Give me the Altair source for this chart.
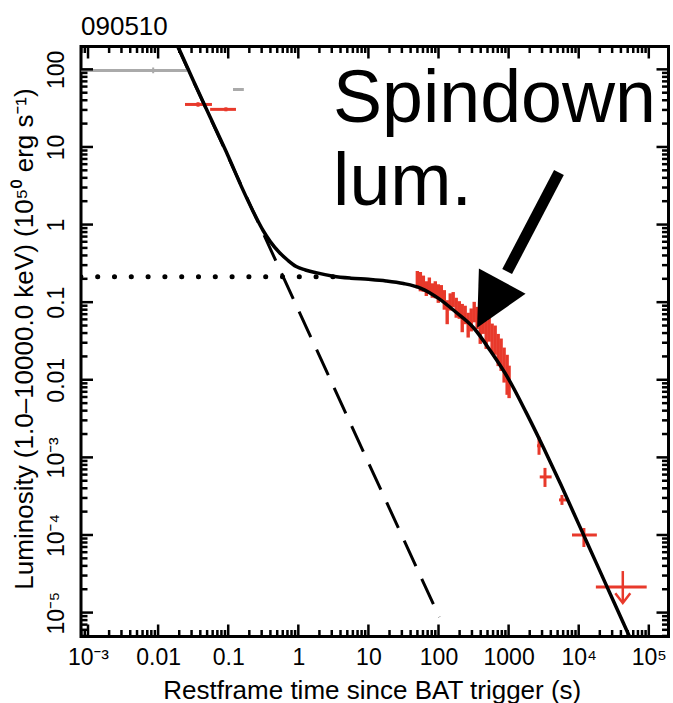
import json
import altair as alt
import pandas as pd

# ---------------- data ----------------
# model curve (solid): total = steep decay + spindown
model_t = [0.0186, 0.0316, 0.0562, 0.1, 0.158, 0.224, 0.316, 0.398, 0.537, 0.708, 0.933,
           1.26, 1.78, 3.16, 5.62, 10, 17.8, 31.6, 56.2, 100, 178, 316, 562, 1000, 1778,
           3162, 5623, 10000, 17783, 31623, 56234]
model_L = [210, 72.4, 23.4, 7.59, 2.95, 1.51, 0.832, 0.603, 0.437, 0.347, 0.288,
           0.260, 0.240, 0.216, 0.204, 0.197, 0.188, 0.174, 0.151, 0.112, 0.0741, 0.0468,
           0.0229, 0.0102, 3.80e-3, 1.32e-3, 4.37e-4, 1.38e-4, 4.37e-5, 1.38e-5, 4.37e-6]
# steep power-law component (dashed)
dash_t = [0.0183, 102.6]
dash_L = [210, 8.75e-6]
# spindown plateau level (dotted)
plateau_t = [7.9e-4, 3.3]
plateau_L = [0.213, 0.213]

# XRT data (red cluster)
xrt_t = [49.9, 55.1, 60.8, 67.0, 74.0, 81.6, 90.0, 99.3, 109.6, 121, 133, 147, 162, 179,
         198, 218, 240, 265, 293, 323, 356, 394, 434, 479, 528, 582, 643, 710, 782, 863,
         953, 1016]
xrt_L = [0.195, 0.184, 0.173, 0.149, 0.163, 0.141, 0.145, 0.129, 0.133, 0.108, 0.0754,
         0.101, 0.108, 0.0849, 0.080, 0.0631, 0.069, 0.0513, 0.0594, 0.0754, 0.0631, 0.0442,
         0.056, 0.0381, 0.0442, 0.0348, 0.0328, 0.0244, 0.0210, 0.0156, 0.0116, 0.0094]
xrt_lo = [0.150, 0.138, 0.136, 0.120, 0.128, 0.114, 0.112, 0.098, 0.106, 0.080, 0.052,
          0.078, 0.086, 0.063, 0.061, 0.041, 0.052, 0.035, 0.042, 0.055, 0.045, 0.029,
          0.039, 0.025, 0.031, 0.022, 0.021, 0.015, 0.013, 0.0092, 0.0064, 0.0058]
xrt_hi = [0.252, 0.245, 0.220, 0.186, 0.208, 0.175, 0.186, 0.170, 0.166, 0.143, 0.106,
          0.130, 0.135, 0.114, 0.103, 0.095, 0.090, 0.073, 0.083, 0.101, 0.087, 0.067,
          0.080, 0.058, 0.063, 0.053, 0.050, 0.039, 0.034, 0.026, 0.021, 0.0152]

# late XRT points
late_t = [2716, 3304, 5770, 11860]
late_tlo = [2547, 2780, 5230, 8020]
late_thi = [2904, 4110, 6800, 18160]
late_L = [1.41e-3, 5.6e-4, 2.83e-4, 1.0e-4]
late_lo = [1.08e-3, 4.16e-4, 2.44e-4, 7.0e-5]
late_hi = [1.84e-3, 7.32e-4, 3.28e-4, 1.23e-4]

# upper limit
ul_t = [42560]
ul_tlo = [17580]
ul_thi = [93300]
ul_L = [2.13e-5]
ul_top = [3.43e-5]
ul_tip = [1.33e-5]

# BAT points (red)
bat_t = [0.0371, 0.0927]
bat_tlo = [0.0242, 0.0552]
bat_thi = [0.0586, 0.129]
bat_L = [35.3, 30.5]
bat_lo = [33.0, 28.8]
bat_hi = [37.7, 32.4]

# grey points
grey_t = [0.0085, 0.14]
grey_tlo = [8.0e-4, 0.117]
grey_thi = [0.0258, 0.167]
grey_L = [97, 55]
grey_lo = [89, 53]
grey_hi = [106, 57]

# annotation
note_lines = ["Spindown", "lum."]
note_t = [3.13, 3.13]
note_L = [21.0, 1.79]
arrow_t = [5224, 953]
arrow_L = [4.69, 0.248]
head_t = [537]
head_L = [0.0935]

# axes
x_major = [1e-3, 1e-2, 0.1, 1, 10, 100, 1000, 1e4, 1e5]
x_labels = ["10⁻³", "0.01", "0.1", "1", "10", "100", "1000", "10⁴", "10⁵"]
y_major = [1e-5, 1e-4, 1e-3, 0.01, 0.1, 1, 10, 100]
y_labels = ["10⁻⁵", "10⁻⁴", "10⁻³", "0.01", "0.1", "1", "10", "100"]
minor_mult = [2, 3, 4, 5, 6, 7, 8, 9]

X_DOM = [7.94e-4, 1.91e5]
Y_DOM = [4.92e-6, 197]

# ---------------- chart ----------------
W, H = 587.5, 590
FONT = "Liberation Sans"
TFONT = "Liberation Sans, Noto Sans, DejaVu Sans"
RED = "#e8392b"
GREY = "#aaaaaa"

xs = alt.Scale(type="log", domain=X_DOM, nice=False)
ys = alt.Scale(type="log", domain=Y_DOM, nice=False)


def lab_expr(values, labels):
    return "%s[indexof(%s, datum.value)]" % (
        json.dumps(labels, ensure_ascii=False), json.dumps(values))


xaxis = alt.Axis(
    values=x_major, labelExpr=lab_expr(x_major, x_labels), ticks=False, tickSize=0,
    domain=False, grid=False, labelFont=TFONT, labelFontSize=23, labelColor="black",
    labelPadding=10, labelFlush=False, labelOverlap=False,
    title="Restframe time since BAT trigger (s)", titleFont=FONT, titleFontSize=26,
    titleFontWeight="normal", titleColor="black", titleBaseline="alphabetic",
    titleAlign="center", titleY=61.5, titleX=W / 2 - 3,
)
yaxis = alt.Axis(
    values=y_major, labelExpr=lab_expr(y_major, y_labels), ticks=False, tickSize=0,
    domain=False, grid=False, labelFont=TFONT, labelFontSize=23, labelColor="black",
    labelAngle=270, labelAlign="center", labelBaseline="alphabetic", labelPadding=18,
    labelFlush=False, labelOverlap=False,
    title="Luminosity (1.0–10000.0 keV) (10⁵⁰ erg s⁻¹)", titleFont=TFONT,
    titleFontSize=26, titleFontWeight="normal", titleColor="black", titleAngle=270,
    titleAlign="center", titleBaseline="alphabetic", titleX=-49, titleY=292,
)


def X(f):
    return alt.X(f, type="quantitative", scale=xs, axis=xaxis)


def Y(f):
    return alt.Y(f, type="quantitative", scale=ys, axis=yaxis)


model_df = pd.DataFrame({"t": model_t, "L": model_L})
dash_df = pd.DataFrame({"t": dash_t, "L": dash_L})
plat_df = pd.DataFrame({"t": plateau_t, "L": plateau_L})
xrt_df = pd.DataFrame({"t": xrt_t, "L": xrt_L, "lo": xrt_lo, "hi": xrt_hi})
late_df = pd.DataFrame({"t": late_t, "tlo": late_tlo, "thi": late_thi,
                        "L": late_L, "lo": late_lo, "hi": late_hi})
ul_df = pd.DataFrame({"t": ul_t, "tlo": ul_tlo, "thi": ul_thi, "L": ul_L,
                      "top": ul_top, "tip": ul_tip})
bat_df = pd.DataFrame({"t": bat_t, "tlo": bat_tlo, "thi": bat_thi,
                       "L": bat_L, "lo": bat_lo, "hi": bat_hi})
grey_df = pd.DataFrame({"t": grey_t, "tlo": grey_tlo, "thi": grey_thi,
                        "L": grey_L, "lo": grey_lo, "hi": grey_hi})
note_df = pd.DataFrame({"s": note_lines, "t": note_t, "L": note_L})
arrow_df = pd.DataFrame({"t0": [arrow_t[0]], "t1": [arrow_t[1]],
                         "L0": [arrow_L[0]], "L1": [arrow_L[1]]})
head_df = pd.DataFrame({"t": head_t, "L": head_L})

x_minor = [m * v for v in [1e-4] + x_major for m in minor_mult
           if X_DOM[0] < m * v < X_DOM[1]]
y_minor = [m * v for v in [1e-6] + y_major for m in minor_mult
           if Y_DOM[0] < m * v < Y_DOM[1]]
xmaj_df = pd.DataFrame({"v": x_major})
xmin_df = pd.DataFrame({"v": x_minor})
ymaj_df = pd.DataFrame({"v": y_major})
ymin_df = pd.DataFrame({"v": y_minor})

layers = []

# dotted plateau
layers.append(alt.Chart(plat_df).mark_line(
    color="black", strokeWidth=5, strokeDash=[0.1, 16.7], strokeCap="round", clip=True
).encode(x=X("t"), y=Y("L")))

# dashed steep component
layers.append(alt.Chart(dash_df).mark_line(
    color="black", strokeWidth=3, strokeDash=[28, 14], clip=True
).encode(x=X("t"), y=Y("L")))

# grey points
layers.append(alt.Chart(grey_df).mark_rule(color=GREY, strokeWidth=3, clip=True)
              .encode(x=X("tlo"), x2="thi", y=Y("L")))
layers.append(alt.Chart(grey_df).mark_rule(color=GREY, strokeWidth=2, clip=True)
              .encode(x=X("t"), y=Y("lo"), y2="hi"))

# BAT red points
layers.append(alt.Chart(bat_df).mark_rule(color=RED, strokeWidth=3)
              .encode(x=X("tlo"), x2="thi", y=Y("L")))
layers.append(alt.Chart(bat_df).mark_rule(color=RED, strokeWidth=3)
              .encode(x=X("t"), y=Y("lo"), y2="hi"))

# XRT cluster
layers.append(alt.Chart(xrt_df).mark_rule(color=RED, strokeWidth=3.4)
              .encode(x=X("t"), y=Y("lo"), y2="hi"))

# late points
layers.append(alt.Chart(late_df).mark_rule(color=RED, strokeWidth=3)
              .encode(x=X("tlo"), x2="thi", y=Y("L")))
layers.append(alt.Chart(late_df).mark_rule(color=RED, strokeWidth=3)
              .encode(x=X("t"), y=Y("lo"), y2="hi"))

# upper limit
layers.append(alt.Chart(ul_df).mark_rule(color=RED, strokeWidth=3)
              .encode(x=X("tlo"), x2="thi", y=Y("L")))
layers.append(alt.Chart(ul_df).mark_rule(color=RED, strokeWidth=2.5)
              .encode(x=X("t"), y=Y("top"), y2="tip"))
layers.append(alt.Chart(ul_df).mark_point(
    shape="M-1,-1.3L0,0L1,-1.3", size=225, filled=False, color=RED,
    strokeWidth=2.5, opacity=1
).encode(x=X("t"), y=Y("tip")))

# solid model curve
layers.append(alt.Chart(model_df).mark_line(
    color="black", strokeWidth=3.5, interpolate="monotone", clip=True
).encode(x=X("t"), y=Y("L")))

# annotation text and arrow
layers.append(alt.Chart(note_df).mark_text(
    align="left", baseline="alphabetic", font=FONT, fontSize=73.5, color="black"
).encode(x=X("t"), y=Y("L"), text="s"))
layers.append(alt.Chart(arrow_df).mark_rule(color="black", strokeWidth=11)
              .encode(x=X("t0"), x2="t1", y=Y("L0"), y2="L1"))
layers.append(alt.Chart(head_df).mark_point(
    shape="M0,1L-1,-1L1,-1Z", size=2809, angle=28.3, filled=True, color="black",
    opacity=1, strokeWidth=0
).encode(x=X("t"), y=Y("L")))

# inward ticks on all four sides
TK_MAJ, TK_MIN, TW = 12, 6.5, 2.5
for df, ln in [(xmaj_df, TK_MAJ), (xmin_df, TK_MIN)]:
    layers.append(alt.Chart(df).mark_rule(color="black", strokeWidth=TW).encode(
        x=X("v"), y=alt.value(H), y2=alt.value(H - ln)))
    layers.append(alt.Chart(df).mark_rule(color="black", strokeWidth=TW).encode(
        x=X("v"), y=alt.value(0), y2=alt.value(ln)))
for df, ln in [(ymaj_df, TK_MAJ), (ymin_df, TK_MIN)]:
    layers.append(alt.Chart(df).mark_rule(color="black", strokeWidth=TW).encode(
        y=Y("v"), x=alt.value(0), x2=alt.value(ln)))
    layers.append(alt.Chart(df).mark_rule(color="black", strokeWidth=TW).encode(
        y=Y("v"), x=alt.value(W), x2=alt.value(W - ln)))

chart = alt.layer(*layers).properties(
    width=W, height=H,
    background="white",
    title=alt.TitleParams("090510", anchor="start", frame="group", font=FONT,
                          fontSize=26, fontWeight="normal", color="black",
                          baseline="alphabetic", offset=-16),
    autosize=alt.AutoSizeParams(type="none"),
    padding={"left": 81, "top": 46.5, "right": 4.5, "bottom": 66.5},
).configure_view(stroke="black", strokeWidth=3)

chart.save("out.html", embed_options={"renderer": "svg", "actions": False})
